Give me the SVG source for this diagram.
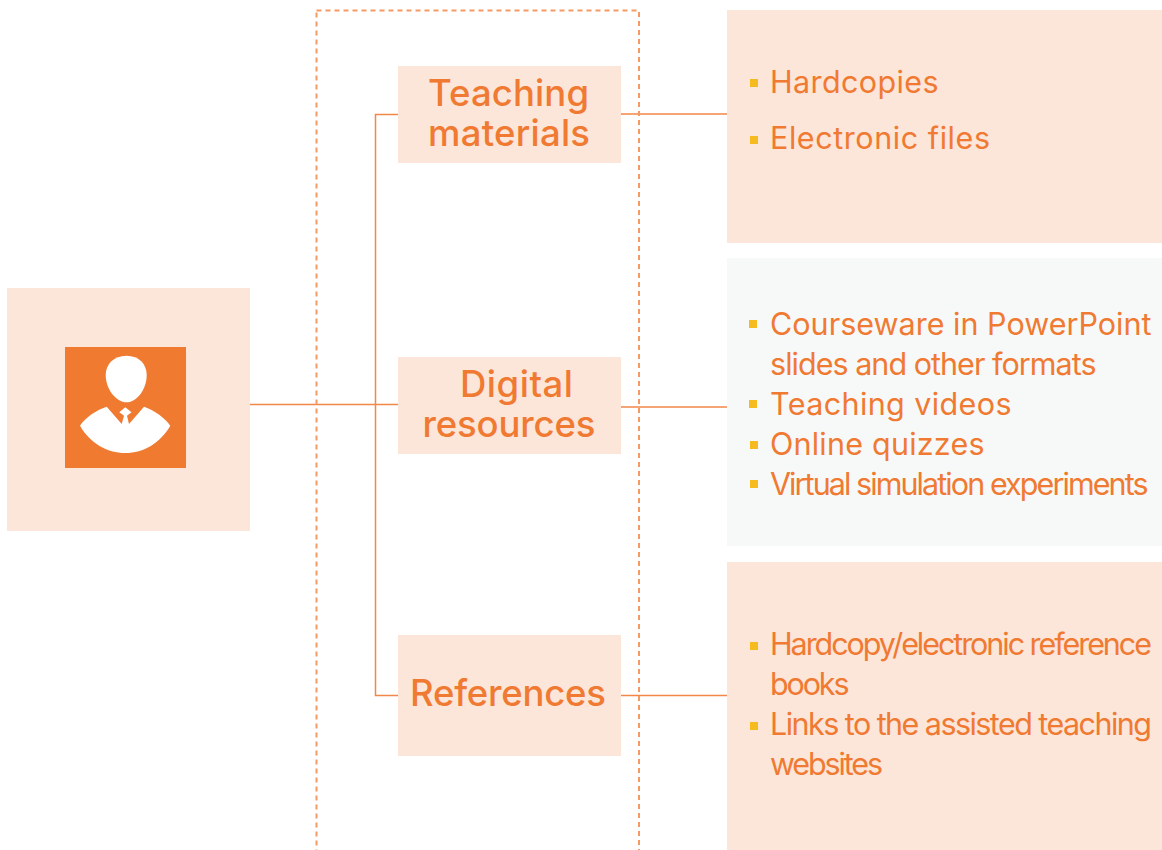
<svg xmlns="http://www.w3.org/2000/svg" width="1162" height="850" viewBox="0 0 1162 850">
<style>
.bg{fill:#fce6da}
.t{font-family:"Inter","Liberation Sans",sans-serif;fill:#f07a32}
.h{font-size:36.500px;font-weight:500}
.b{font-size:30.500px}
.bu{fill:#f6bc1f}
.c{fill:none;stroke:#f2874a;stroke-width:1.5}
</style>
<rect width="1162" height="850" fill="#fff"/>
<g id="connectors">
<path class="c" d="M250 404.500H398M398 114.500H375.500V695.500H398M621 114H727M621 407H727M621 695.500H727"/>
</g>
<rect id="dashed-frame" x="316.500" y="10.500" width="322.500" height="860" fill="none" stroke="#f59a63" stroke-width="2" stroke-dasharray="5 4"/>
<g id="person">
<rect class="bg" x="7" y="288" width="243" height="243"/>
<rect x="65" y="347" width="121" height="121" fill="#f07a30"/>
<path fill="#fff" d="M126.500 355.700C139 355.700 146.700 364 146.700 375C146.700 389 137 402.300 126.500 402.300C116 402.300 105.700 389 105.700 375C105.700 364 114 355.700 126.500 355.700Z"/>
<path fill="#fff" d="M106.700 406.700L121.700 424L124 415.700L119.300 412.300L125.300 407.300L131.500 412.300L127 415.700L129 424L144 406.700C154 410 165 418 170.300 425.700C160 443 144 453 125.300 453C107 453 90 443 80 425.700C85 418 96 410 106.700 406.700Z"/>
</g>
<g id="teaching-materials">
<rect class="bg" x="398" y="66" width="223" height="97"/>
<text class="t h" x="428" y="106" textLength="161">Teaching</text>
<text class="t h" x="428" y="146" textLength="162">materials</text>
</g>
<g id="digital-resources">
<rect class="bg" x="398" y="357" width="223" height="97"/>
<text class="t h" x="460" y="397" textLength="113">Digital</text>
<text class="t h" x="422.500" y="437" textLength="173">resources</text>
</g>
<g id="references">
<rect class="bg" x="398" y="635" width="223" height="121"/>
<text class="t h" x="410" y="705.500" textLength="196">References</text>
</g>
<g id="list-materials">
<rect class="bg" x="727" y="10" width="435" height="233"/>
<rect class="bu" x="750" y="79" width="8" height="8"/>
<rect class="bu" x="750" y="136" width="8" height="8"/>
<text class="t b" x="770" y="93" textLength="168.500">Hardcopies</text>
<text class="t b" x="770" y="149" textLength="220">Electronic files</text>
</g>
<g id="list-digital">
<rect x="727" y="258" width="435" height="288" fill="#f7f9f8"/>
<rect class="bu" x="749" y="320" width="8" height="8"/>
<rect class="bu" x="749" y="400" width="8" height="8"/>
<rect class="bu" x="750" y="441" width="8" height="8"/>
<rect class="bu" x="750" y="480" width="8" height="8"/>
<text class="t b" x="770" y="335" textLength="381.500">Courseware in PowerPoint</text>
<text class="t b" x="770" y="375" textLength="326.500">slides and other formats</text>
<text class="t b" x="770" y="415" textLength="241.500">Teaching videos</text>
<text class="t b" x="770" y="455" textLength="214.500">Online quizzes</text>
<text class="t b" x="770" y="495" textLength="378.500">Virtual simulation experiments</text>
</g>
<g id="list-references">
<rect class="bg" x="727" y="562" width="435" height="288"/>
<rect class="bu" x="750" y="642" width="8" height="8"/>
<rect class="bu" x="750" y="722" width="8" height="8"/>
<text class="t b" x="770" y="655" textLength="382">Hardcopy/electronic reference</text>
<text class="t b" x="770" y="695" textLength="79.500">books</text>
<text class="t b" x="770" y="735" textLength="382">Links to the assisted teaching</text>
<text class="t b" x="770" y="775" textLength="113">websites</text>
</g>
</svg>
